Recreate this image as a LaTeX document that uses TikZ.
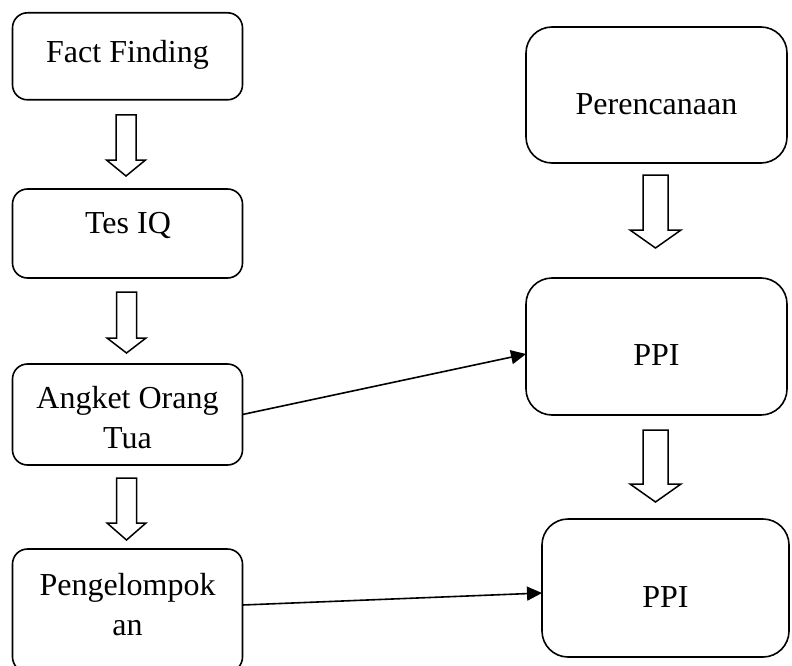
\documentclass[tikz,border=0pt]{standalone}
\usepackage{fontspec}
\setmainfont{Liberation Serif}
\usetikzlibrary{arrows.meta,calc}
\tikzset{
  x=1pt, y=-1pt,
  box/.style={draw, line width=1.6pt, rounded corners=#1, inner sep=0pt, outer sep=0pt},
  box/.default=15pt,
  lbl/.style={anchor=base, inner sep=0pt, font=\fontsize{32}{40}\selectfont, align=center},
  blk/.style={draw, line width=1.5pt, fill=white, line join=miter},
  conn/.style={line width=1.6pt, -{Triangle[length=15pt,width=14pt]}}
}
% \blockarrow{xc}{ytop}{yhead}{ytip}{halfshaft}{halfhead}
\newcommand{\blockarrow}[6]{%
  \draw[blk] (#1-#5,#2) -- (#1+#5,#2) -- (#1+#5,#3) -- (#1+#6,#3) -- (#1,#4)
    -- (#1-#6,#3) -- (#1-#5,#3) -- cycle;}
\begin{document}
\begin{tikzpicture}
\useasboundingbox (0,0) rectangle (792,666);
\clip (0,0) rectangle (792,666);
% left column boxes
\node[box, minimum width=230pt, minimum height=87pt] (b1) at (127.5,56.3) {};
\node[box, minimum width=230pt, minimum height=89pt] (b2) at (127.5,233.5) {};
\node[box, minimum width=230pt, minimum height=101pt] (b3) at (127.5,414.5) {};
\node[box, minimum width=230pt, minimum height=123pt] (b4) at (127.5,610.5) {};
% right column boxes
\node[box=26pt, minimum width=261pt, minimum height=136pt] (b5) at (656.5,95) {};
\node[box=26pt, minimum width=261pt, minimum height=137pt] (b6) at (656.5,346.5) {};
\node[box=26pt, minimum width=247pt, minimum height=138pt] (b7) at (665.5,588) {};
% labels (base anchor = baseline of the last line)
\node[lbl] (t1) at (127.5,63) {Fact Finding};
\node[lbl] (t2) at (128,233) {Tes IQ};
\node[lbl] (t3) at (127.5,448) {Angket Orang\\Tua};
\node[lbl] (t4) at (127.5,635) {Pengelompok\\an};
\node[lbl] (t5) at (656.5,115) {Perencanaan};
\node[lbl] (t6) at (656.5,365) {PPI};
\node[lbl] (t7) at (665.5,607) {PPI};
% block arrows
\blockarrow{126}{115}{160}{176}{10}{19.5}
\blockarrow{126.5}{292}{338}{353}{10}{19.5}
\blockarrow{126.5}{478}{523}{540}{10}{19.5}
\blockarrow{655.5}{175}{230}{248}{12.5}{25.5}
\blockarrow{655.5}{430}{484}{502}{12.5}{25.5}
% connectors
\draw[conn] (b3.east) -- ($(b6.west)+(0,7.5)$);
\draw[conn] ($(b4.east)+(0,-5.5)$) -- ($(b7.west)+(0,5)$);
\end{tikzpicture}
\end{document}
